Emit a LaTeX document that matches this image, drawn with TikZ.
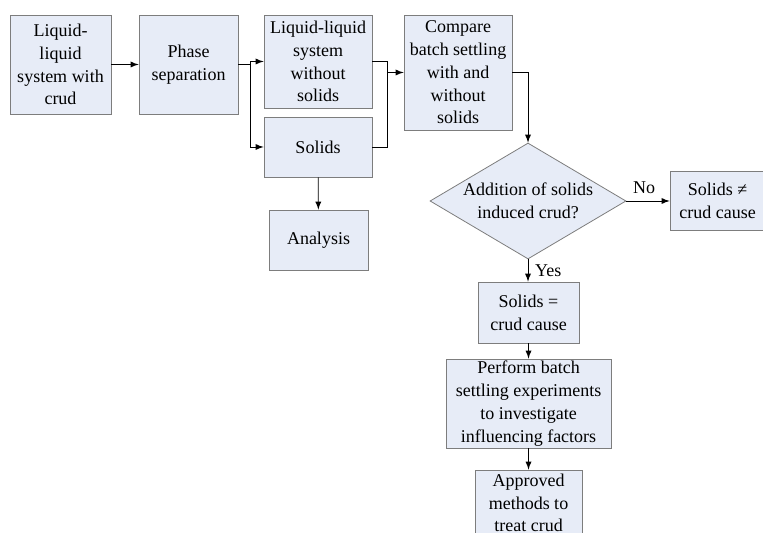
\documentclass[tikz,border=0pt]{standalone}
\usepackage{fontspec}
\setmainfont{Liberation Serif}
\usetikzlibrary{arrows,shapes.geometric,positioning}

\definecolor{boxfill}{RGB}{231,236,247}
\definecolor{boxline}{RGB}{125,125,125}

\tikzset{
  box/.style={draw=boxline, fill=boxfill, align=center, inner sep=1pt},
  decision/.style={diamond, draw=boxline, fill=boxfill, inner sep=0pt,
                   minimum width=98pt, minimum height=58pt},
  flow/.style={-latex, thin},
}

\begin{document}
\begin{tikzpicture}[x=0.5pt, y=-0.5pt, font=\fontsize{9}{11.4}\selectfont]  % 1 unit = 1 px of the sketch

            \useasboundingbox (0,0) rectangle (763,533);
            \clip (0,0) rectangle (763,533);

            % Boxes
            \node[box, minimum width=50.5pt, minimum height=49.5pt] (crud) at (60.5,64.5) {Liquid-\\liquid\\system with\\crud};
            \node[box, minimum width=49.5pt, minimum height=49.5pt] (phase) at (188.5,64.5) {Phase\\separation};
            \node[box, minimum width=54pt, minimum height=46.5pt] (liquid) at (318,61.5) {Liquid-liquid\\system\\without\\solids};
            \node[box, minimum width=54pt, minimum height=30pt] (solids) at (318,147) {Solids};
            \node[box, minimum width=49.5pt, minimum height=30pt] (analysis) at (318.5,240) {Analysis};
            \node[box, minimum width=54pt, minimum height=57.5pt] (compare) at (458,72.5) {Compare\\batch settling\\with and\\without\\solids};
            \node[decision, label={[align=center]center:Addition of solids\\induced crud?}] (decide) at (528,201) {};
            \node[box, minimum width=47.5pt, minimum height=29.5pt] (nocause) at (717.5,201) {Solids ≠\\crud cause};
            \node[box, minimum width=50.5pt, minimum height=30.5pt] (cause) at (528.5,312.5) {Solids =\\crud cause};
            \node[box, minimum width=82.5pt, minimum height=44.5pt] (perform) at (528.5,403.5) {Perform batch\\settling experiments\\to investigate\\influencing factors};
            \node[box, minimum width=53.5pt, minimum height=33pt] (approved) at (528.5,503) {Approved\\methods to\\treat crud};

            % Junctions
            \coordinate (split) at (250,64.5);
            \coordinate (merge) at (387,72.5);

            % Connectors
            \draw[flow] (crud) -- (phase);
            \draw (phase.east) -- (split);
            \draw[flow] (split) |- (liquid.west);
            \draw[flow] (split) |- (solids.west);
            \draw (liquid.east) -| (merge);
            \draw (solids.east) -| (merge);
            \draw[flow] (merge) -- (compare.west |- merge);
            \draw[flow] (solids) -- (analysis);
            \draw[flow] (compare.east) -| (decide.north);
            \draw[flow] (decide.east) -- node[above, xshift=-2pt] {No} (nocause.west |- decide.east);
            \draw[flow] (decide.south) -- node[right] {Yes} (cause.north -| decide.south);
            \draw[flow] (cause) -- (perform);
            \draw[flow] (perform) -- (approved);

        \end{tikzpicture}
\end{document}
